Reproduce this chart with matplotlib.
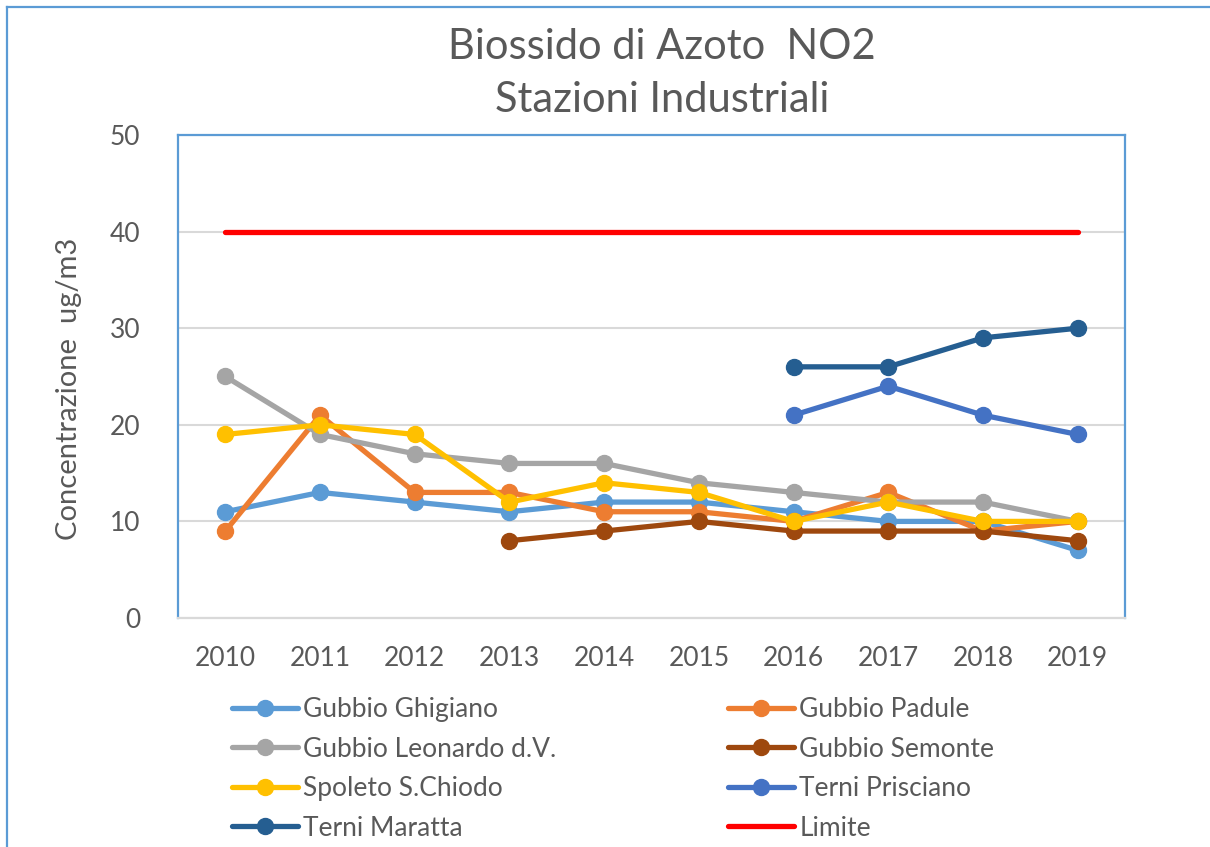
import numpy as np
import matplotlib
matplotlib.use("Agg")
import matplotlib.pyplot as plt
from matplotlib.lines import Line2D

nan = np.nan
years = ["2010", "2011", "2012", "2013", "2014", "2015", "2016", "2017", "2018", "2019"]

gubbio_ghigiano = [11, 13, 12, 11, 12, 12, 11, 10, 10, 7]
gubbio_padule = [9, 21, 13, 13, 11, 11, 10, 13, 9, 10]
gubbio_leonardo = [25, 19, 17, 16, 16, 14, 13, 12, 12, 10]
gubbio_semonte = [nan, nan, nan, 8, 9, 10, 9, 9, 9, 8]
spoleto_chiodo = [19, 20, 19, 12, 14, 13, 10, 12, 10, 10]
terni_prisciano = [nan, nan, nan, nan, nan, nan, 21, 24, 21, 19]
terni_maratta = [nan, nan, nan, nan, nan, nan, 26, 26, 29, 30]
limite = [40, 40, 40, 40, 40, 40, 40, 40, 40, 40]

series = [
    ("Gubbio Ghigiano", gubbio_ghigiano, "#5B9BD5", True),
    ("Gubbio Padule", gubbio_padule, "#ED7D31", True),
    ("Gubbio Leonardo d.V.", gubbio_leonardo, "#A5A5A5", True),
    ("Gubbio Semonte", gubbio_semonte, "#9E480E", True),
    ("Spoleto S.Chiodo", spoleto_chiodo, "#FFC000", True),
    ("Terni Prisciano", terni_prisciano, "#4472C4", True),
    ("Terni Maratta", terni_maratta, "#255E91", True),
    ("Limite", limite, "#FF0000", False),
]

plt.rcParams['font.family'] = ['Lato', 'DejaVu Sans']
txt = "#595959"

fig = plt.figure(figsize=(12.1, 8.47), dpi=100)
ax = fig.add_axes([178 / 1210, 1 - 618 / 847, 947 / 1210, 483 / 847])

x = np.arange(len(years))
handles = {}
for name, vals, col, mk in series:
    if mk:
        h, = ax.plot(x, vals, color=col, lw=3.8, marker="o", markersize=11.5,
                     solid_capstyle="round", label=name)
    else:
        h, = ax.plot(x, vals, color=col, lw=3.8, solid_capstyle="round", label=name)
    handles[name] = h

ax.set_xlim(-0.5, len(years) - 0.5)
ax.set_ylim(0, 50)
ax.set_yticks([0, 10, 20, 30, 40, 50])
ax.set_xticks(x)
ax.set_xticklabels(years)
ax.grid(axis="y", color="#D9D9D9", lw=1.5)
ax.set_axisbelow(True)
ax.tick_params(length=0, labelsize=19, colors=txt)
ax.tick_params(axis="x", pad=20)
ax.tick_params(axis="y", pad=27)
for s in ["left", "top", "right"]:
    ax.spines[s].set_color("#5B9BD5")
    ax.spines[s].set_linewidth(1.6)
ax.spines["bottom"].set_color("#D9D9D9")
ax.spines["bottom"].set_linewidth(1.6)

ax.set_ylabel("Concentrazione  ug/m3", fontsize=21, color=txt)
ax.yaxis.set_label_coords((82 - 178) / 947, (618 - 389) / 483)
fig.text(662 / 1210, 1 - 47 / 847, "Biossido di Azoto  NO2", ha="center", va="center",
         fontsize=30, color=txt)
fig.text(662 / 1210, 1 - 100 / 847, "Stazioni Industriali", ha="center", va="center",
         fontsize=30, color=txt)

left_names = ["Gubbio Ghigiano", "Gubbio Leonardo d.V.", "Spoleto S.Chiodo", "Terni Maratta"]
right_names = ["Gubbio Padule", "Gubbio Semonte", "Terni Prisciano", "Limite"]
for names, xpos in [(left_names, 232 / 1210), (right_names, 728 / 1210)]:
    leg = fig.legend([handles[n] for n in names], names, loc="upper left",
                     bbox_to_anchor=(xpos, 1 - 697 / 847), frameon=False,
                     fontsize=19, handlelength=2.5, handletextpad=0.2,
                     labelspacing=0.55, borderaxespad=0, borderpad=0)
    for t in leg.get_texts():
        t.set_color(txt)

# outer chart border
fig.add_artist(Line2D([7 / 1210, 7 / 1210], [0, 1 - 7 / 847], transform=fig.transFigure,
                      color="#5B9BD5", lw=1.6))
fig.add_artist(Line2D([7 / 1210, 1], [1 - 7 / 847, 1 - 7 / 847], transform=fig.transFigure,
                      color="#5B9BD5", lw=1.6))

fig.savefig("out.png", dpi=100)
